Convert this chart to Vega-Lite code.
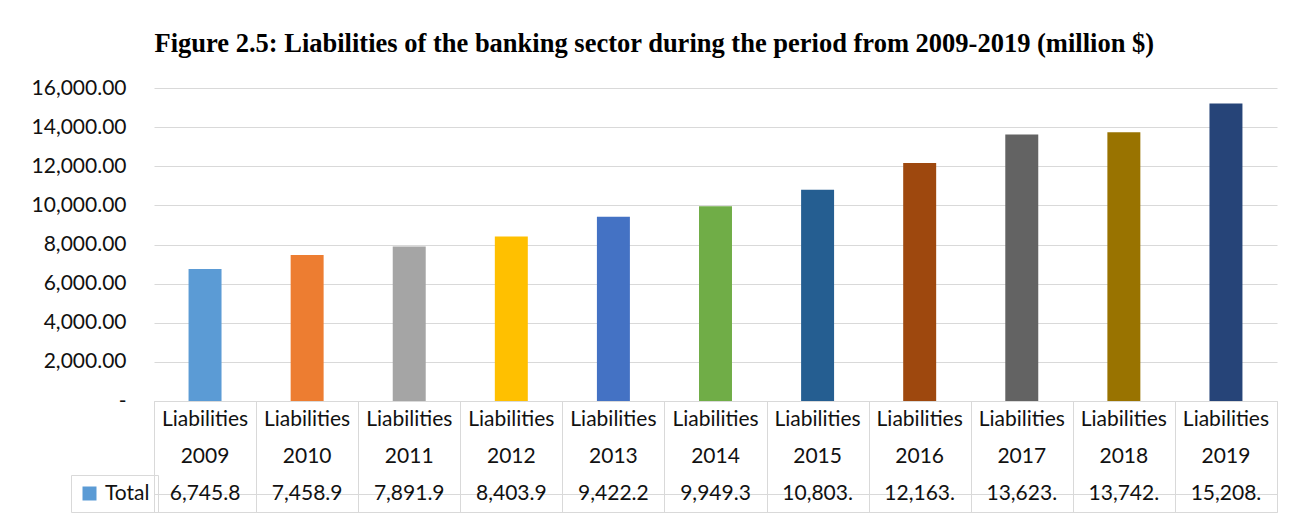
{
  "$schema": "https://vega.github.io/schema/vega-lite/v6.json",
  "autosize": {"type": "pad"},
  "padding": {"left": 31, "top": 30, "right": 30, "bottom": 12},
  "background": "white",
  "bounds": "flush",
  "spacing": 0,
  "title": {
    "text": "Figure 2.5: Liabilities of the banking sector during the period from 2009-2019 (million $)",
    "font": "Liberation Serif", "fontSize": 26.5, "fontWeight": "bold", "color": "#000000",
    "anchor": "middle", "offset": 20
  },
  "config": {"view": {"stroke": null}, "font": "Lato"},
  "datasets": {
    "liab": [
      {"year": "2009", "value": 6745.8, "shown": "6,745.8"},
      {"year": "2010", "value": 7458.9, "shown": "7,458.9"},
      {"year": "2011", "value": 7891.9, "shown": "7,891.9"},
      {"year": "2012", "value": 8403.9, "shown": "8,403.9"},
      {"year": "2013", "value": 9422.2, "shown": "9,422.2"},
      {"year": "2014", "value": 9949.3, "shown": "9,949.3"},
      {"year": "2015", "value": 10803.5, "shown": "10,803."},
      {"year": "2016", "value": 12163.4, "shown": "12,163."},
      {"year": "2017", "value": 13623.2, "shown": "13,623."},
      {"year": "2018", "value": 13742.6, "shown": "13,742."},
      {"year": "2019", "value": 15208.1, "shown": "15,208."}
    ]
  },
  "vconcat": [
    {
      "width": 1123, "height": 313,
      "data": {"name": "liab"},
      "mark": {"type": "bar", "width": {"band": 0.323}},
      "encoding": {
        "x": {"field": "year", "type": "nominal", "sort": null,
              "scale": {"paddingInner": 0, "paddingOuter": 0}, "axis": null},
        "y": {"field": "value", "type": "quantitative",
              "scale": {"domain": [0, 16000], "nice": false, "zero": true},
              "axis": {
                "values": [0, 2000, 4000, 6000, 8000, 10000, 12000, 14000, 16000],
                "labelExpr": "datum.value == 0 ? '-\u00a0\u00a0\u00a0' : format(datum.value, ',.2f')",
                "grid": true, "gridColor": "#d9d9d9", "gridWidth": 1,
                "domain": false, "ticks": false, "labelPadding": 28,
                "labelFont": "Lato", "labelFontSize": 21, "labelColor": "#111111", "title": null
              }},
        "color": {"field": "year", "type": "nominal", "sort": null,
                  "scale": {"range": ["#5B9BD5", "#ED7D31", "#A5A5A5", "#FFC000", "#4472C4", "#70AD47", "#255E91", "#9E480E", "#636363", "#997300", "#264478"]},
                  "legend": null}
      }
    },
    {
      "width": 1123, "height": 111,
      "data": {"name": "liab"},
      "view": {"stroke": "#d9d9d9", "strokeWidth": 1},
      "encoding": {
        "x": {"field": "year", "type": "nominal", "sort": null,
              "scale": {"paddingInner": 0, "paddingOuter": 0},
              "axis": {"grid": true, "tickBand": "extent", "gridColor": "#d9d9d9", "gridWidth": 1,
                       "labels": false, "ticks": false, "domain": false, "title": null}}
      },
      "layer": [
        {
          "mark": {"type": "text", "baseline": "middle", "font": "Lato", "fontSize": 21, "color": "#111111"},
          "encoding": {
            "y": {"datum": "r1", "type": "nominal",
                  "scale": {"domain": ["r1", "r2", "r3"], "paddingInner": 0, "paddingOuter": 0},
                  "axis": {"values": ["r3"], "bandPosition": 0, "grid": true, "gridColor": "#d9d9d9", "gridWidth": 1,
                           "labels": false, "ticks": false, "domain": false, "title": null}},
            "text": {"value": "Liabilities"}
          }
        },
        {
          "mark": {"type": "text", "baseline": "middle", "font": "Lato", "fontSize": 21, "color": "#111111"},
          "encoding": {
            "y": {"datum": "r2", "type": "nominal"},
            "text": {"field": "year"}
          }
        },
        {
          "mark": {"type": "text", "baseline": "middle", "font": "Lato", "fontSize": 21, "color": "#111111"},
          "encoding": {
            "y": {"datum": "r3", "type": "nominal"},
            "text": {"field": "shown"}
          }
        },
        {
          "mark": {"type": "point", "shape": "square", "filled": true, "opacity": 0},
          "encoding": {
            "y": {"datum": "r3", "type": "nominal"},
            "color": {"datum": "Total", "type": "nominal",
                      "scale": {"range": ["#5B9BD5"]},
                      "legend": {"orient": "none", "legendX": -83, "legendY": 74, "title": null,
                                 "symbolType": "square", "symbolSize": 196, "symbolOpacity": 1,
                                 "symbolFillColor": "#5B9BD5", "symbolStrokeWidth": 0,
                                 "labelFont": "Lato", "labelFontSize": 21, "labelColor": "#111111",
                                 "labelOffset": 5, "strokeColor": "#d9d9d9", "padding": 8}}
          }
        }
      ]
    }
  ],
  "resolve": {
    "scale": {"color": "independent", "x": "independent", "y": "independent"},
    "legend": {"color": "independent"}
  }
}
